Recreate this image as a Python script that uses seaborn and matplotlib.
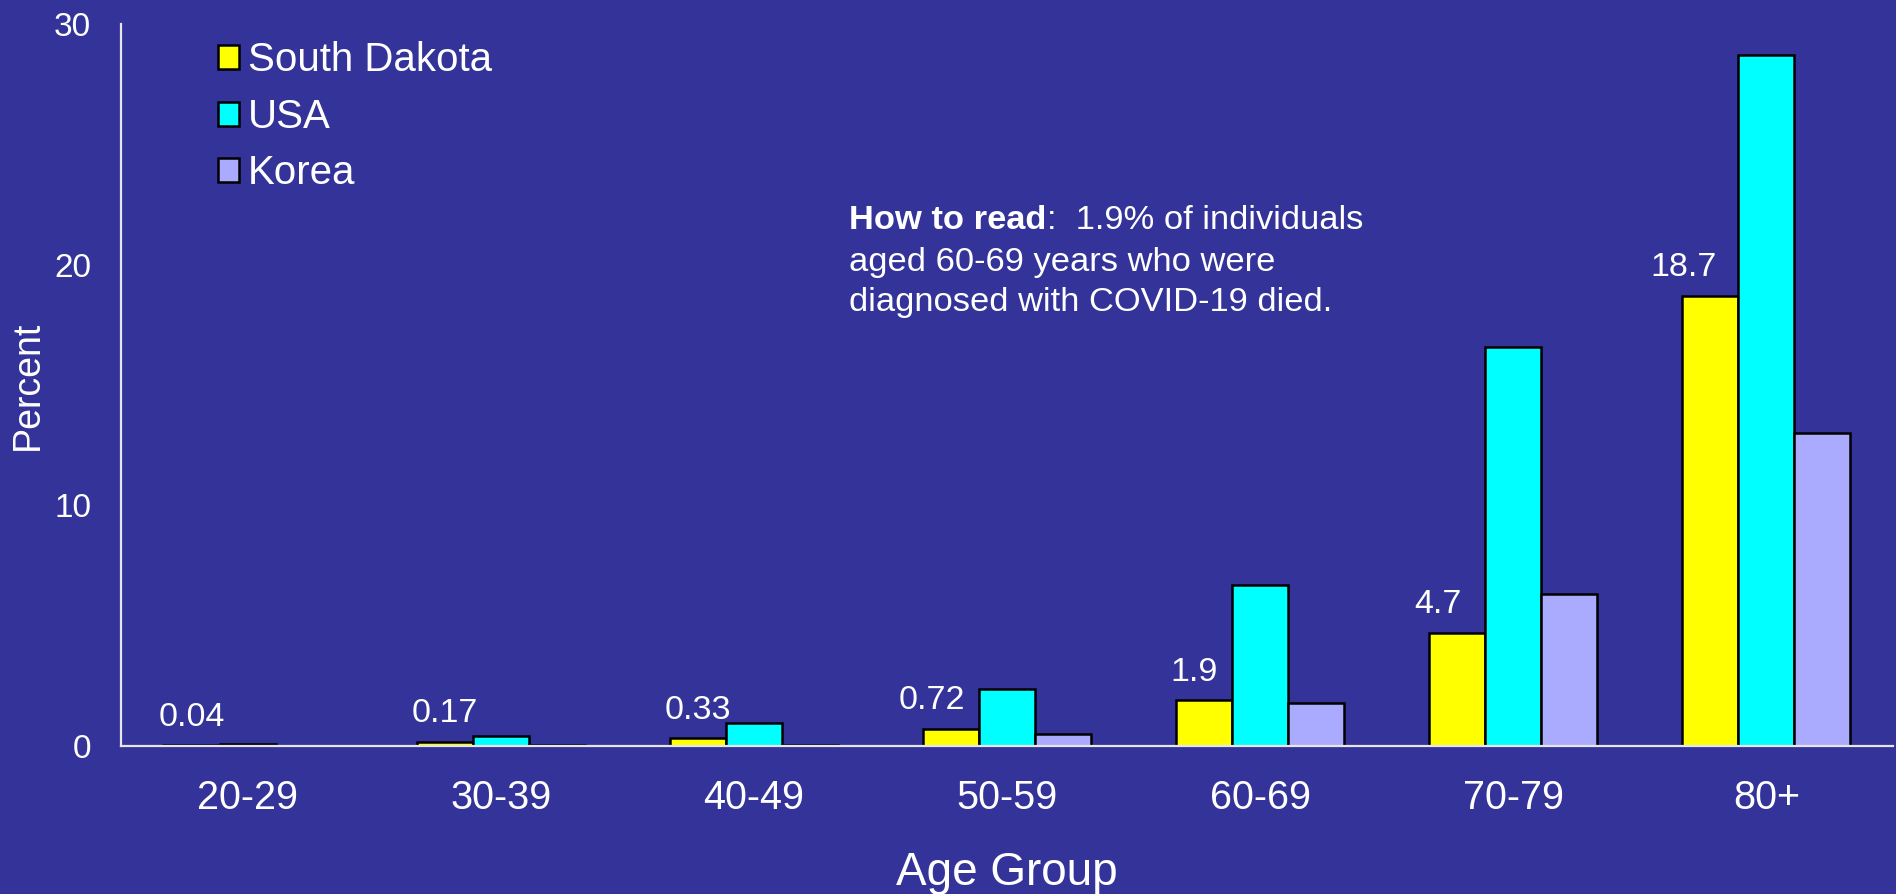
import pandas as pd
import numpy as np
import matplotlib
matplotlib.use("Agg")
import matplotlib.pyplot as plt
import seaborn as sns

# ------------------- Data -------------------
age_groups = ['20-29', '30-39', '40-49', '50-59', '60-69', '70-79', '80+']
countries = ['South Dakota', 'USA', 'Korea']
south_dakota = [0.04, 0.17, 0.33, 0.72, 1.9, 4.7, 18.7]
usa = [0.1, 0.4, 0.97, 2.37, 6.7, 16.6, 28.7]
korea = [np.nan, 0.05, 0.05, 0.5, 1.8, 6.3, 13.0]
sd_labels = ['0.04', '0.17', '0.33', '0.72', '1.9', '4.7', '18.7']

BG = '#333399'
palette = {'South Dakota': '#FFFF00', 'USA': '#00FFFF', 'Korea': '#AAAAFF'}

df = pd.DataFrame({
    'Age Group': age_groups * 3,
    'Percent': south_dakota + usa + korea,
    'Country': [c for c in countries for _ in age_groups],
})

# ------------------- Plot -------------------
sns.set_style('white')
plt.rcParams['font.family'] = ['Liberation Sans', 'DejaVu Sans']

fig = plt.figure(figsize=(18.96, 8.94), dpi=100, facecolor=BG)
ax = fig.add_axes([0.0638, 0.1655, 0.9346, 0.8076])
ax.set_facecolor(BG)

sns.barplot(data=df, x='Age Group', y='Percent', hue='Country', hue_order=countries,
            palette=palette, saturation=1, width=0.664, edgecolor='black',
            linewidth=1.8, ax=ax)

ax.set_ylim(0, 30)
ax.set_xlim(-0.5, 6.5)
ax.set_yticks([0, 10, 20, 30])
ax.tick_params(axis='both', length=0, colors='white')
ax.tick_params(axis='y', pad=21.5, labelsize=24)
ax.tick_params(axis='x', pad=23.5, labelsize=28.5)
ax.set_xlabel('Age Group', color='white', fontsize=33, labelpad=24.5)
ax.set_ylabel('Percent', color='white', fontsize=27, labelpad=6)

for s in ['top', 'right']:
    ax.spines[s].set_visible(False)
for s in ['left', 'bottom']:
    ax.spines[s].set_color('#e6e6e6')
    ax.spines[s].set_linewidth(1.6)

# labels over South Dakota bars (nudged left where they would touch the next bar)
label_dx = [0, 0, 0, -14, -7, -14, -19]
for bar, txt, dx in zip(ax.containers[0], sd_labels, label_dx):
    ax.annotate(txt, xy=(bar.get_x() + bar.get_width() / 2, bar.get_height()),
                xytext=(dx, 9), textcoords='offset points', ha='center', va='bottom',
                color='white', fontsize=24.5)

# legend
ax.legend(loc='upper left', bbox_to_anchor=(0.0547, 0.976), frameon=False,
          fontsize=29, labelcolor='white', handlelength=0.53, handleheight=0.53,
          handletextpad=0.22, labelspacing=0.46, borderpad=0, borderaxespad=0)

# "How to read" note
x0 = 0.411
t1 = ax.text(x0, 0.728, 'How to read', transform=ax.transAxes, color='white',
             fontsize=24.8, fontweight='bold', va='center', ha='left')
ax.annotate(':  1.9% of individuals', xy=(1, 0), xycoords=t1, color='white',
            fontsize=24.8, va='bottom', ha='left')
ax.text(x0, 0.670, 'aged 60-69 years who were', transform=ax.transAxes,
        color='white', fontsize=24.8, va='center', ha='left')
ax.text(x0, 0.614, 'diagnosed with COVID-19 died.', transform=ax.transAxes,
        color='white', fontsize=24.8, va='center', ha='left')

fig.savefig('out.png', dpi=100, facecolor=BG)
